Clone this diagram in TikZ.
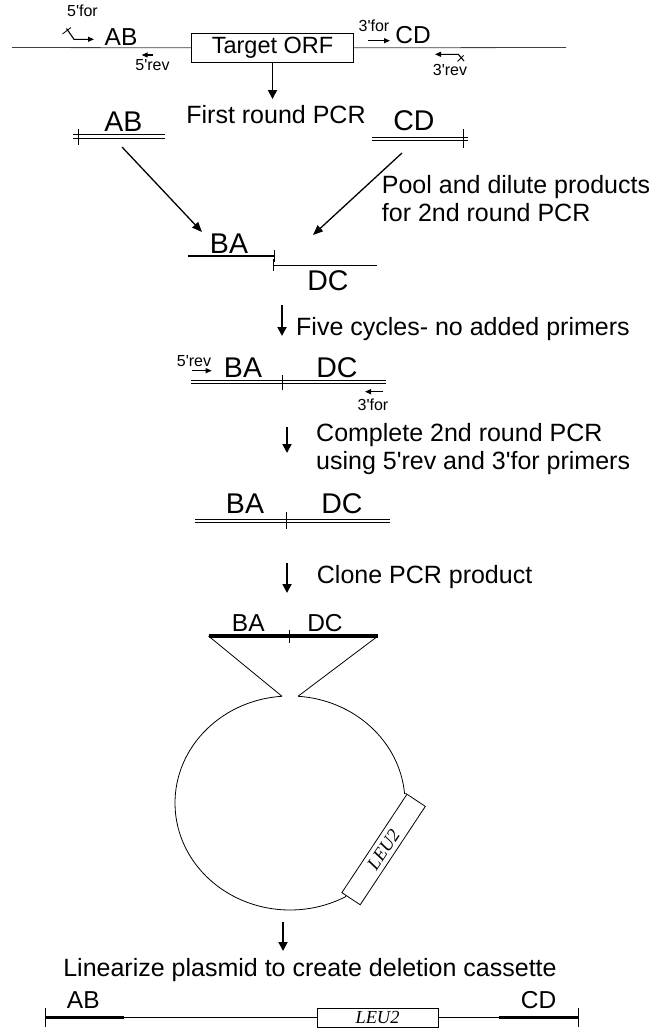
\documentclass[tikz,border=0pt]{standalone}
\usepackage{fontspec}
\setmainfont{Liberation Sans}
\newfontfamily\genefont{Liberation Serif}
\usetikzlibrary{arrows.meta, calc}
\newcommand{\apos}{\textquotesingle}

\begin{document}
\begin{tikzpicture}[
    x=1pt, y=-1pt,
    thinline/.style={line width=0.8pt},
    ssstrand/.style={line width=1.6pt},
    dsstrand/.style={double, line width=1.2pt, double distance=2.4pt},
    thickstrand/.style={line width=3.6pt},
    tickmark/.style={line width=1pt},
    flowarrow/.style={-{Triangle[length=9pt, width=9pt]}, line width=1.8pt},
    pointarrow/.style={-{Triangle[length=10pt, width=8pt]}, line width=1.3pt},
    primerarrow/.style={-{Triangle[length=6pt, width=5pt]}, line width=1.1pt},
    fraglabel/.style={anchor=base, inner sep=0pt, font=\fontsize{28.5}{34}\selectfont},
    endlabel/.style={anchor=base, inner sep=0pt, font=\fontsize{24.5}{29}\selectfont},
    primerlabel/.style={anchor=base, inner sep=0pt, font=\fontsize{16}{19}\selectfont},
    steptext/.style={anchor=base west, inner sep=0pt, align=left, font=\fontsize{25}{28.5}\selectfont},
    genebox/.style={draw, rectangle, thinline, inner sep=0pt, font=\genefont\itshape\fontsize{18.4}{22}\selectfont},
]
\useasboundingbox (0,0) rectangle (650,1028);

% --- genomic locus ---
\node [
    draw,
    rectangle,
    thinline,
    minimum width=161.6pt,
    minimum height=29pt,
    inner sep=0pt,
    font=\fontsize{23.5}{28}\selectfont,
] (targetorf) at (272.5,47.8) {Target ORF};

\coordinate (genomeleft) at (12,47.5);
\coordinate (genomeright) at (566,47.5);
\draw [thinline, black!75] (genomeleft) -- (targetorf.west);
\draw [thinline, black!75] (targetorf.east) -- (genomeright);

\node [endlabel] (topab) at (121,45) {AB};
\node [endlabel] (topcd) at (413,43.5) {CD};

% primers
\draw [primerarrow] (66.5,28.5) -- (74,39.3) -- (94,39.3);
\draw [thinline] (62.5,34) -- (71,27.5);
\node [primerlabel] (fivefor) at (82.5,16.7) {5\apos for};
\draw [primerarrow] (153.3,55) -- (141.7,55);
\node [primerlabel] (fiverev) at (152.5,70) {5\apos rev};
\draw [primerarrow] (368.3,40.7) -- (390,40.7);
\node [primerlabel] (threefor) at (374,31.7) {3\apos for};
\draw [primerarrow] (464,61) -- (458.3,54.3) -- (435,54.3);
\draw [thinline] (457.5,61.5) -- (463.5,55.5);
\node [primerlabel] (threerev) at (450,75) {3\apos rev};

% --- first round PCR ---
\coordinate (firsttip) at (272.5,99);
\draw [flowarrow] (targetorf.south) -- (firsttip);
\node [steptext, anchor=base] (firstround) at (276,123.3) {First round PCR};

\draw [dsstrand] (73,136.3) -- (165,136.3);
\draw [tickmark] (78,128.5) -- (78,145);
\node [fraglabel] (fragab) at (123.3,131.5) {AB};

\draw [dsstrand] (372,139) -- (468,139);
\draw [tickmark] (463,129) -- (463,147.5);
\node [fraglabel] (fragcd) at (414,130) {CD};

% base of a two-line text is its last line
\node [steptext] (pooltext) at (381.7,221.7) {Pool and dilute products\\for 2nd round PCR};

\coordinate (abfrom) at (122,147);
\coordinate (abto) at (202,232);
\coordinate (cdfrom) at (402,153);
\coordinate (cdto) at (313,235);
\draw [pointarrow] (abfrom) -- (abto);
\draw [pointarrow] (cdfrom) -- (cdto);

% --- annealed single strands ---
\draw [ssstrand] (188,255.7) -- (274,255.7);
\draw [tickmark] (274,250) -- (274,261.5);
\draw [ssstrand] (273,265.5) -- (377,265.5);
\draw [tickmark] (273,259) -- (273,271);
\node [fraglabel] (fragba) at (229,253) {BA};
\node [fraglabel] (fragdc) at (328,290) {DC};

\coordinate (fivetop) at (282,305);
\coordinate (fivetip) at (282,336);
\draw [flowarrow] (fivetop) -- (fivetip);
\node [steptext] (fivecycles) at (296,335) {Five cycles- no added primers};

\draw [dsstrand] (191,382) -- (386,382);
\draw [tickmark] (282,375) -- (282,389.5);
\node [fraglabel] (fusedba) at (243,377) {BA};
\node [fraglabel] (fuseddc) at (337,377) {DC};
\draw [primerarrow] (191.7,370.7) -- (211.7,370.7);
\node [primerlabel] (nestrev) at (194,366) {5\apos rev};
\draw [primerarrow] (383.3,391.7) -- (365,391.7);
\node [primerlabel] (nestfor) at (373,410) {3\apos for};

% --- second round PCR ---
\coordinate (secondtop) at (287,427);
\coordinate (secondtip) at (287,453);
\draw [flowarrow] (secondtop) -- (secondtip);
\node [steptext] (complete) at (316,469.5) {Complete 2nd round PCR\\using 5\apos rev and 3\apos for primers};

\draw [dsstrand] (195,521) -- (390,521);
\draw [tickmark] (286,512) -- (286,529);
\node [fraglabel] (productba) at (245,513.3) {BA};
\node [fraglabel] (productdc) at (342,513.3) {DC};

\coordinate (clonetop) at (287,563);
\coordinate (clonetip) at (287,593);
\draw [flowarrow] (clonetop) -- (clonetip);
\node [steptext] (clone) at (316.7,583) {Clone PCR product};

% --- plasmid ---
\coordinate (insertleft) at (208.5,636);
\coordinate (insertright) at (378,636);
\draw [thickstrand] (insertleft) -- (insertright);
\draw [tickmark] (289,629.5) -- (289,643);
\node [endlabel] (insertba) at (248.3,631.7) {BA};
\node [endlabel] (insertdc) at (325,631.7) {DC};

\coordinate (plasmidcenter) at (290,803);
\coordinate (neckleft) at ($(plasmidcenter)+(266:115 and 107)$);
\coordinate (neckright) at ($(plasmidcenter)+(274:115 and 107)$);
\draw [thinline] (insertleft) -- (neckleft);
\draw [thinline] (insertright) -- (neckright);

\node [
    genebox,
    rotate=56.5,
    minimum width=118pt,
    minimum height=22pt,
] (leucircle) at (383.6,849.5) {LEU2};

\draw [thinline] (neckleft) arc [start angle=266, end angle=61, x radius=115, y radius=107]
    -- ($(leucircle.north west)!0.25!(leucircle.south west)$);
\draw [thinline] (neckright) arc [start angle=274, end angle=355, x radius=115, y radius=107]
    -- (leucircle.north east);

% --- deletion cassette ---
\coordinate (lintop) at (283,922);
\coordinate (lintip) at (283,951);
\draw [flowarrow] (lintop) -- (lintip);
\node [steptext, anchor=base] (linearize) at (310,976) {Linearize plasmid to create deletion cassette};

\node [
    genebox,
    minimum width=121pt,
    minimum height=19pt,
] (leulinear) at (377.5,1017.5) {LEU2};

\coordinate (cassetteleft) at (45,1017.5);
\coordinate (cassetteright) at (578,1017.5);
\draw [thinline] (cassetteleft) -- (leulinear.west);
\draw [thinline] (leulinear.east) -- (cassetteright);
\draw [thickstrand] (cassetteleft) -- (124,1017.5);
\draw [thickstrand] (499,1017.5) -- (cassetteright);
\draw [tickmark] (45,1008) -- (45,1027);
\draw [tickmark] (578,1008) -- (578,1027);
\node [endlabel] (cassetteab) at (83.3,1008.7) {AB};
\node [endlabel] (cassettecd) at (538.5,1008.7) {CD};

\end{tikzpicture}
\end{document}
